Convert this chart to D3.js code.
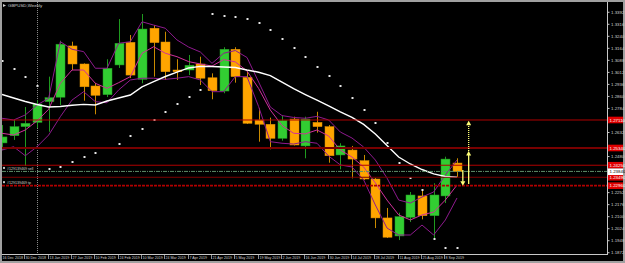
<!DOCTYPE html>
<html lang="en">
  <head>
    <meta charset="UTF-8" />
    <script src="https://d3js.org/d3.v7.min.js"></script>
    <title>GBPUSD,Weekly</title>
    <style>
      body {
        margin: 0;
        background: #000;
      }
      svg {
        display: block;
      }
      .small-text {
        font-family: "Liberation Sans", Arial, sans-serif;
        font-size: 4.4px;
        fill: #d0d0d0;
      }
      .date-text {
        font-family: "Liberation Sans", Arial, sans-serif;
        font-size: 3.6px;
        fill: #d0d0d0;
      }
    </style>
  </head>
  <body>
    <svg id="chart" width="625" height="263"></svg>

    <script>
      // Week labels on the time axis (every second bar)
      const dateLabels = [
        "16 Dec 2018", "30 Dec 2018", "13 Jan 2019", "27 Jan 2019", "10 Feb 2019",
        "24 Feb 2019", "10 Mar 2019", "24 Mar 2019", "7 Apr 2019", "21 Apr 2019",
        "5 May 2019", "19 May 2019", "2 Jun 2019", "16 Jun 2019", "30 Jun 2019",
        "14 Jul 2019", "28 Jul 2019", "11 Aug 2019", "25 Aug 2019", "8 Sep 2019",
      ];

      // Weekly candles
      const opens = [1.2566,1.2612,1.2669,1.2696,1.2827,1.2855,1.3179,1.3065,1.2926,1.2871,1.3059,1.3202,1.2968,1.3291,1.3204,1.3027,1.3027,1.3065,1.2978,1.2894,1.3158,1.2981,1.2711,1.2684,1.2595,1.2717,1.2547,1.2696,1.2669,1.2490,1.2521,1.2454,1.2338,1.2092,1.1978,1.2096,1.2231,1.2106,1.2231,1.2439];
      const highs = [1.2679,1.2711,1.2793,1.2837,1.2985,1.3212,1.3206,1.3069,1.2945,1.3095,1.3349,1.3248,1.3381,1.3311,1.3269,1.3095,1.3122,1.3111,1.3006,1.3171,1.3171,1.3016,1.2785,1.2726,1.2736,1.2732,1.2732,1.2763,1.2679,1.2564,1.2547,1.2490,1.2344,1.2155,1.2125,1.2256,1.2269,1.2311,1.2479,1.2469];
      const lows = [1.2521,1.2585,1.2420,1.2660,1.2637,1.2806,1.3027,1.2833,1.2747,1.2856,1.3040,1.2976,1.2943,1.2985,1.2964,1.2964,1.2995,1.2932,1.2842,1.2880,1.2947,1.2686,1.2574,1.2526,1.2580,1.2550,1.2469,1.2631,1.2441,1.2399,1.2342,1.2332,1.2028,1.1965,1.1952,1.2066,1.2083,1.1959,1.2186,1.2349];
      const closes = [1.2604,1.2669,1.2690,1.2812,1.2852,1.3190,1.3065,1.2921,1.2867,1.3038,1.3196,1.2995,1.3286,1.3200,1.3016,1.3016,1.3057,1.2975,1.2896,1.3158,1.2985,1.2690,1.2684,1.2595,1.2707,1.2553,1.2717,1.2669,1.2485,1.2547,1.2464,1.2338,1.2092,1.1970,1.2100,1.2237,1.2106,1.2237,1.2464,1.2384];

      // Indicators
      const maWhite = [1.2872,1.2850,1.2828,1.2809,1.2793,1.2796,1.2804,1.2810,1.2806,1.2831,1.2850,1.2869,1.2920,1.2954,1.2986,1.3014,1.3040,1.3050,1.3049,1.3046,1.3043,1.3027,1.3013,1.2991,1.2951,1.2909,1.2872,1.2837,1.2800,1.2762,1.2727,1.2683,1.2623,1.2550,1.2477,1.2433,1.2398,1.2370,1.2354,1.2349];
      const bandUpper = [1.2722,1.2711,1.2743,1.2806,1.2848,1.3206,1.3158,1.3143,1.3038,1.3038,1.3196,1.3206,1.3332,1.3311,1.3291,1.3217,1.3172,1.3141,1.3069,1.3133,1.3150,1.3106,1.2951,1.2793,1.2739,1.2727,1.2722,1.2734,1.2711,1.2635,1.2597,1.2540,1.2458,1.2344,1.2205,1.2186,1.2224,1.2256,1.2363,1.2458];
      const bandMiddle = [1.2627,1.2616,1.2648,1.2705,1.2779,1.2943,1.3027,1.3027,1.2943,1.2911,1.2947,1.2985,1.3133,1.3174,1.3133,1.3111,1.3080,1.3065,1.3052,1.3093,1.3078,1.3021,1.2910,1.2774,1.2676,1.2627,1.2623,1.2648,1.2610,1.2521,1.2477,1.2414,1.2313,1.2205,1.2111,1.2079,1.2111,1.2129,1.2205,1.2300];
      const bandLower = [1.2521,1.2542,1.2485,1.2542,1.2616,1.2732,1.2837,1.2890,1.2827,1.2820,1.2901,1.2964,1.2975,1.2975,1.2968,1.2975,1.2985,1.2964,1.2890,1.2890,1.2985,1.2985,1.2795,1.2574,1.2564,1.2559,1.2574,1.2564,1.2483,1.2427,1.2414,1.2332,1.2174,1.2028,1.1984,1.1984,1.2047,1.1984,1.2079,1.2218];
      const sar = [1.3084,1.3031,1.2985,1.2928,1.2399,1.2412,1.2444,1.2475,1.2504,1.2532,1.2559,1.2608,1.2652,1.2711,1.2762,1.2812,1.2858,1.2901,1.3381,1.3368,1.3364,1.3349,1.3326,1.3280,1.3221,1.3164,1.3111,1.3048,1.2991,1.2926,1.2848,1.2774,1.2694,1.2564,1.2441,1.2346,1.2269,1.1959,1.1902,1.1902];

      // Price axis tick labels
      const priceTicks = [1.3392,1.3316,1.3240,1.3164,1.3088,1.3012,1.2936,1.2860,1.2784,1.2708,1.2632,1.2556,1.2480,1.2404,1.2328,1.2252,1.2176,1.2100,1.2024,1.1948,1.1872];

      // Horizontal objects and orders
      const levelPrices = [1.2711, 1.2534, 1.2425, 1.2349];
      const orderPrices = [1.2386, 1.2296];
      const orderNames = ["#129139469 sell", "#129139469 tp"];
      const separatorBar = 3;

      // Arrows: [bar, from price, to price]
      const arrows = [
        [40, 1.2306, 1.2515],
        [40, 1.2515, 1.2707],
        [39.5, 1.2395, 1.2296],
      ];

      const svg = d3.select("#chart");

      const xScale = d3.scaleLinear().domain([0, 39]).range([2, 457]);
      const yScale = d3.scaleLinear().domain([1.18387, 1.34695]).range([258, 0]);

      // frame + background
      svg.append("rect").attr("width", 625).attr("height", 263).attr("fill", "#a0a0a0");
      svg.append("rect").attr("x", 2).attr("y", 2).attr("width", 621).attr("height", 259).attr("fill", "#000");

      svg.append("clipPath").attr("id", "plotClip")
        .append("rect").attr("x", 2).attr("y", 2).attr("width", 605.5).attr("height", 252.5);
      const plot = svg.append("g").attr("clip-path", "url(#plotClip)");

      // period separator
      plot.append("line")
        .attr("x1", Math.round(xScale(separatorBar)) + 0.5)
        .attr("x2", Math.round(xScale(separatorBar)) + 0.5)
        .attr("y1", 2).attr("y2", 255)
        .attr("stroke", "#8a8a8a").attr("stroke-dasharray", "1,1");

      const idx = d3.range(opens.length);

      // candles
      const candle = plot.append("g").selectAll("g").data(idx).enter().append("g");
      candle.append("line")
        .attr("x1", (i) => Math.round(xScale(i)) + 0.5)
        .attr("x2", (i) => Math.round(xScale(i)) + 0.5)
        .attr("y1", (i) => yScale(highs[i]))
        .attr("y2", (i) => yScale(lows[i]))
        .attr("stroke", (i) => (closes[i] >= opens[i] ? "#1f9a1f" : "#c98a00"))
        .attr("stroke-width", 1);
      candle.append("rect")
        .attr("x", (i) => Math.round(xScale(i)) - 4)
        .attr("width", 9)
        .attr("y", (i) => yScale(Math.max(opens[i], closes[i])))
        .attr("height", (i) => Math.max(1.2, Math.abs(yScale(opens[i]) - yScale(closes[i]))))
        .attr("fill", (i) => (closes[i] >= opens[i] ? "#32cd32" : "#ffa500"))
        .attr("stroke", (i) => (closes[i] >= opens[i] ? "#229a22" : "#d88c00"))
        .attr("stroke-width", 0.5);

      // bands
      const line = (arr) =>
        d3.line().x((i) => xScale(i)).y((i) => yScale(arr[i]))(idx);
      plot.append("path").attr("d", line(bandUpper)).attr("fill", "none").attr("stroke", "#8e1a8e").attr("stroke-width", 1);
      plot.append("path").attr("d", line(bandLower)).attr("fill", "none").attr("stroke", "#8e1a8e").attr("stroke-width", 1);
      plot.append("path").attr("d", line(bandMiddle)).attr("fill", "none").attr("stroke", "#d0309a").attr("stroke-width", 1);

      // moving average
      plot.append("path").attr("d", line(maWhite)).attr("fill", "none").attr("stroke", "#ffffff").attr("stroke-width", 1.4);

      // parabolic SAR
      plot.append("g").selectAll("rect").data(idx).enter().append("rect")
        .attr("x", (i) => Math.round(xScale(i)) - 0.5)
        .attr("y", (i) => Math.round(yScale(sar[i])) - 1)
        .attr("width", 2).attr("height", 2)
        .attr("fill", "#e6e6e6");

      // horizontal levels
      const levelColors = ["#b00000", "#780000", "#b00000", "#7c0000"];
      const levelWidths = [1, 2, 1, 1];
      levelPrices.forEach((p, k) => {
        plot.append("line")
          .attr("x1", 2).attr("x2", 608)
          .attr("y1", yScale(p)).attr("y2", yScale(p))
          .attr("stroke", levelColors[k]).attr("stroke-width", levelWidths[k]);
      });

      // order lines
      plot.append("line")
        .attr("x1", 2).attr("x2", 608)
        .attr("y1", yScale(orderPrices[0])).attr("y2", yScale(orderPrices[0]))
        .attr("stroke", "#5f8f6a").attr("stroke-width", 1).attr("stroke-dasharray", "4,1,1,1");
      plot.append("line")
        .attr("x1", 2).attr("x2", 608)
        .attr("y1", yScale(orderPrices[1])).attr("y2", yScale(orderPrices[1]))
        .attr("stroke", "#b00000").attr("stroke-width", 1.6).attr("stroke-dasharray", "3,1");

      orderNames.forEach((name, k) => {
        const y = yScale(orderPrices[k]) - 1.5;
        plot.append("rect").attr("x", 3).attr("y", y - 3).attr("width", 2).attr("height", 2).attr("fill", "#c0c0c0");
        plot.append("text").attr("class", "date-text").attr("x", 7).attr("y", y).text(name);
      });

      // arrows
      const arrowColor = "#ffff78";
      arrows.forEach((a, k) => {
        const x = xScale(a[0]);
        const y0 = yScale(a[1]);
        const y1 = yScale(a[2]);
        const dir = y1 < y0 ? 1 : -1;
        plot.append("line")
          .attr("x1", x).attr("x2", x)
          .attr("y1", y0).attr("y2", y1 + dir * 4)
          .attr("stroke", arrowColor).attr("stroke-width", 1.3)
          .attr("stroke-dasharray", k === 1 ? "1,1" : null);
        plot.append("path")
          .attr("d", `M${x},${y1} L${x - 2.5},${y1 + dir * 4.5} L${x + 2.5},${y1 + dir * 4.5} Z`)
          .attr("fill", arrowColor);
      });

      // axes lines
      svg.append("line").attr("x1", 607.5).attr("x2", 607.5).attr("y1", 2).attr("y2", 255).attr("stroke", "#c8c8c8");
      svg.append("line").attr("x1", 2).attr("x2", 607.5).attr("y1", 254.5).attr("y2", 254.5).attr("stroke", "#c8c8c8");

      // price tick labels (hidden where a coloured label sits)
      const labelYs = levelPrices.concat(orderPrices).map((p) => yScale(p));
      const tickG = svg.append("g");
      priceTicks.forEach((p) => {
        const y = yScale(p);
        if (labelYs.some((ly) => Math.abs(ly - y) < 6)) return;
        tickG.append("line").attr("x1", 607.5).attr("x2", 609.5).attr("y1", y).attr("y2", y).attr("stroke", "#c8c8c8");
        tickG.append("text").attr("class", "small-text").attr("x", 611).attr("y", y + 1.6).text(p.toFixed(4));
      });

      // coloured price labels
      const tagPrices = levelPrices.concat([orderPrices[1]]);
      tagPrices.forEach((p) => {
        const y = yScale(p);
        svg.append("rect").attr("x", 608).attr("y", y - 3.3).attr("width", 15).attr("height", 6.6).attr("fill", "#e00000");
        svg.append("text").attr("class", "small-text").attr("x", 609.5).attr("y", y + 1.6).style("fill", "#ffffff").text(p.toFixed(5));
      });
      const bid = closes[closes.length - 1];
      svg.append("rect").attr("x", 608).attr("y", yScale(bid) - 3.3).attr("width", 15).attr("height", 6.6).attr("fill", "#ffffff");
      svg.append("text").attr("class", "small-text").attr("x", 609.5).attr("y", yScale(bid) + 1.6).style("fill", "#000").text(bid.toFixed(5));

      // time axis
      const dateG = svg.append("g");
      dateLabels.forEach((d, k) => {
        const x = Math.round(xScale(k * 2)) + 0.5;
        dateG.append("line").attr("x1", x - 1).attr("x2", x - 1).attr("y1", 255).attr("y2", 259).attr("stroke", "#909090");
        dateG.append("text").attr("class", "date-text").attr("x", x).attr("y", 259.4).text(d);
      });

      // title
      svg.append("path").attr("d", "M3,4 L6,5.5 L3,7 Z").attr("fill", "#d0d0d0");
      svg.append("text").attr("class", "small-text").attr("x", 8).attr("y", 7.4).text("GBPUSD,Weekly");
    </script>
  </body>
</html>
